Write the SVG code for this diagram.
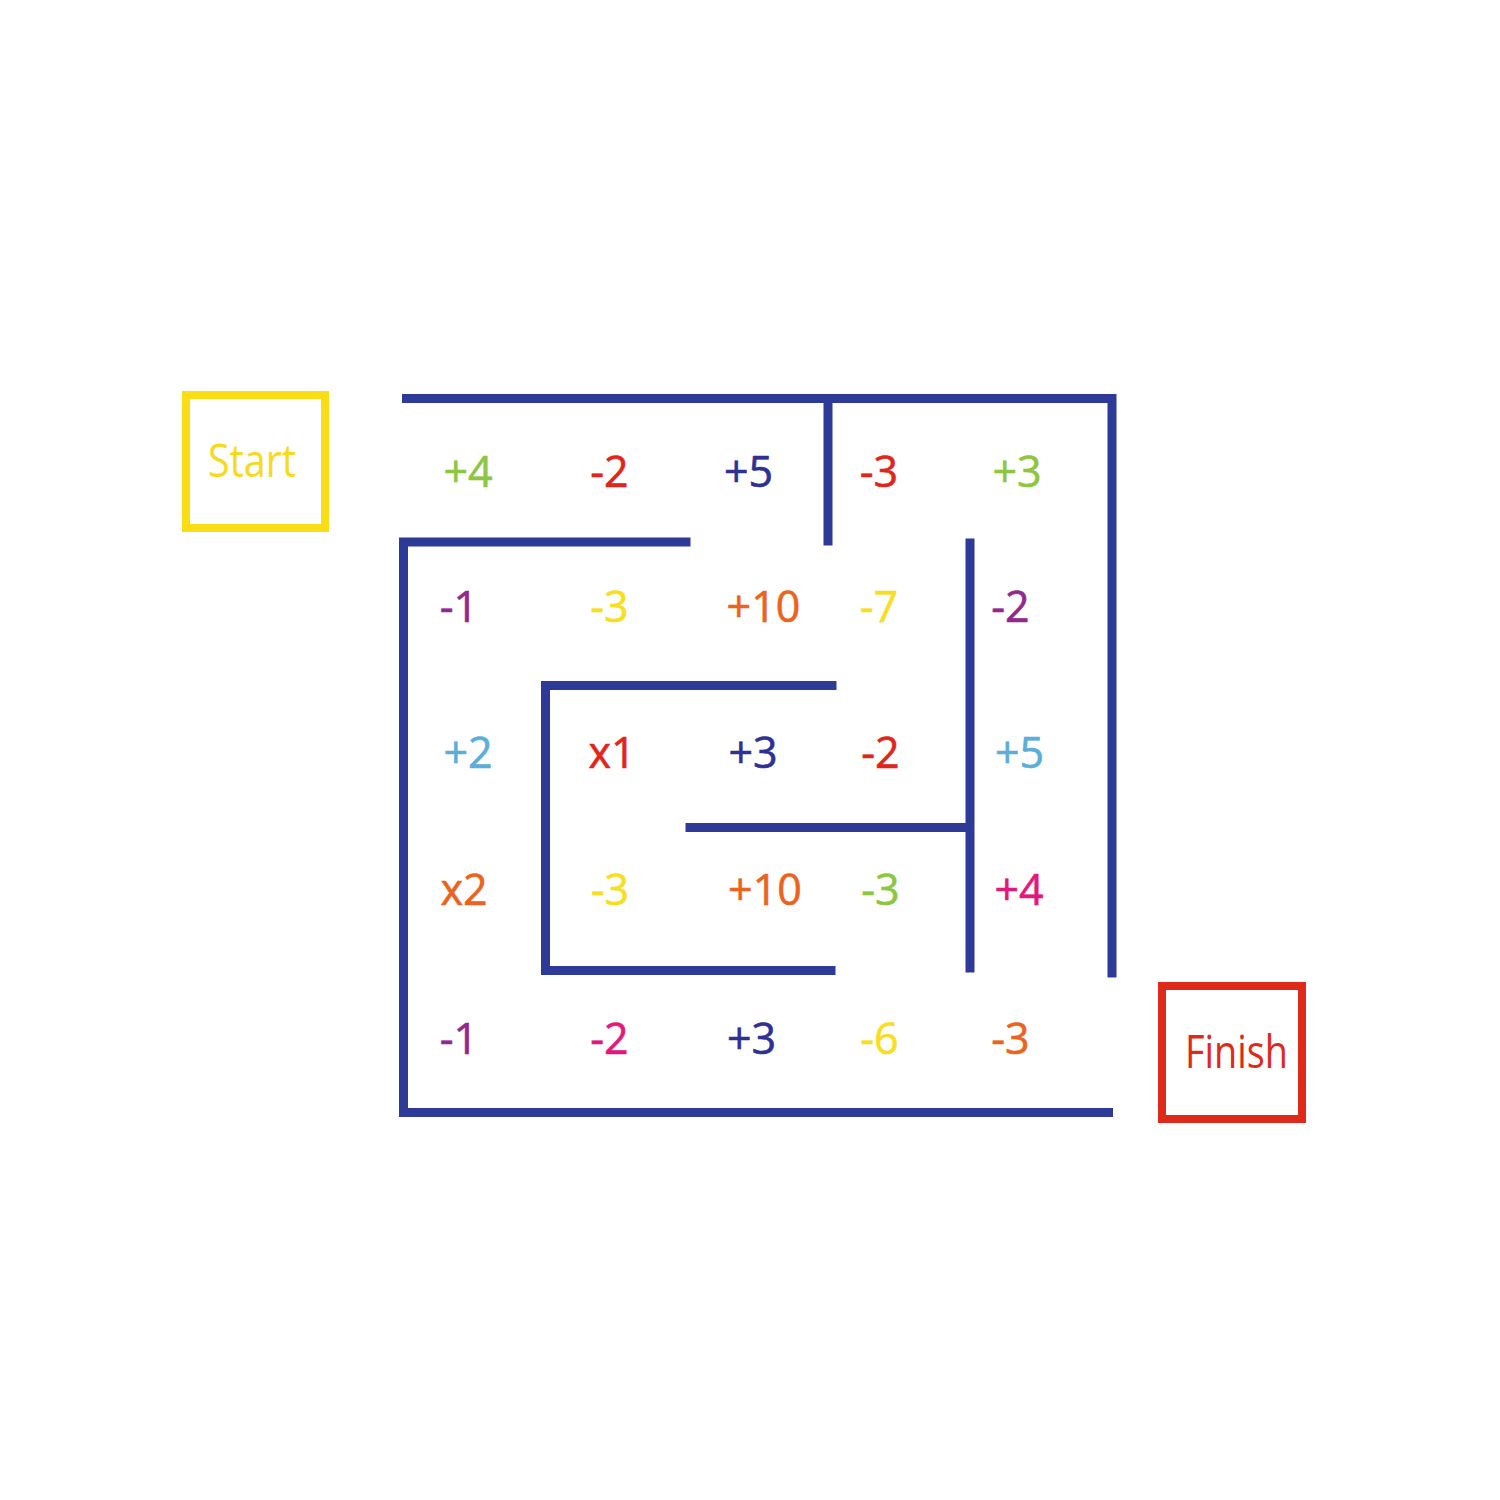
<svg xmlns="http://www.w3.org/2000/svg" width="1500" height="1500" viewBox="0 0 1500 1500">
<style>
.wall{fill:none;stroke:#2E3A97;stroke-width:9;stroke-linecap:square;stroke-linejoin:miter}
text{font-family:"Open Sans","Noto Sans","Liberation Sans",sans-serif;font-size:43px;text-anchor:middle;stroke-width:0.6}
.lbl{font-size:45px}
.g{fill:#8DC63F;stroke:#8DC63F}.r{fill:#E0261B;stroke:#E0261B}.n{fill:#2E3192;stroke:#2E3192}.p{fill:#92278F;stroke:#92278F}.o{fill:#EA6420;stroke:#EA6420}.b{fill:#5AAED8;stroke:#5AAED8}.m{fill:#E2197D;stroke:#E2197D}.y{fill:#F8DE1E;stroke:#F8DE1E}
</style>
<rect width="1500" height="1500" fill="#fff"/>
<g id="start">
<rect x="186" y="395" width="139" height="133" fill="none" stroke="#FBDD16" stroke-width="8"/>
<text class="lbl" x="252" y="477" fill="#F7DA1E" textLength="88" lengthAdjust="spacingAndGlyphs">Start</text>
</g>
<g id="finish">
<rect x="1162" y="986" width="140" height="133" fill="none" stroke="#DD2A1B" stroke-width="8"/>
<text class="lbl" x="1236.5" y="1068" fill="#DD2A1B" textLength="103" lengthAdjust="spacingAndGlyphs">Finish</text>
</g>
<g id="walls">
<polyline class="wall" points="406.5,398.5 1112,398.5 1112,973"/>
<polyline class="wall" points="828,398.5 828,541"/>
<polyline class="wall" points="686,542 403.5,542 403.5,1112.5 1108.5,1112.5"/>
<polyline class="wall" points="832,685.5 545.5,685.5 545.5,970.5 831,970.5"/>
<polyline class="wall" points="690,827.5 966,827.5"/>
<polyline class="wall" points="970,543 970,968"/>
</g>
<g id="row1">
<text class="g" x="468" y="487">+4</text>
<text class="r" x="609.5" y="487">-2</text>
<text class="n" x="748.5" y="487">+5</text>
<text class="r" x="879" y="487">-3</text>
<text class="g" x="1017" y="487">+3</text>
</g>
<g id="row2">
<text class="p" x="459" y="622">-1</text>
<text class="y" x="609.5" y="622">-3</text>
<text class="o" x="763.5" y="622">+10</text>
<text class="y" x="879" y="622">-7</text>
<text class="p" x="1010.5" y="622">-2</text>
</g>
<g id="row3">
<text class="b" x="468" y="768">+2</text>
<text class="r" x="612" y="768">x1</text>
<text class="n" x="753" y="768">+3</text>
<text class="r" x="880.5" y="768">-2</text>
<text class="b" x="1019.5" y="768">+5</text>
</g>
<g id="row4">
<text class="o" x="464" y="905">x2</text>
<text class="y" x="610" y="905">-3</text>
<text class="o" x="765" y="905">+10</text>
<text class="g" x="880.5" y="905">-3</text>
<text class="m" x="1019" y="905">+4</text>
</g>
<g id="row5">
<text class="p" x="459" y="1054">-1</text>
<text class="m" x="609.5" y="1054">-2</text>
<text class="n" x="751.5" y="1054">+3</text>
<text class="y" x="879.5" y="1054">-6</text>
<text class="o" x="1010.5" y="1054">-3</text>
</g>
</svg>
